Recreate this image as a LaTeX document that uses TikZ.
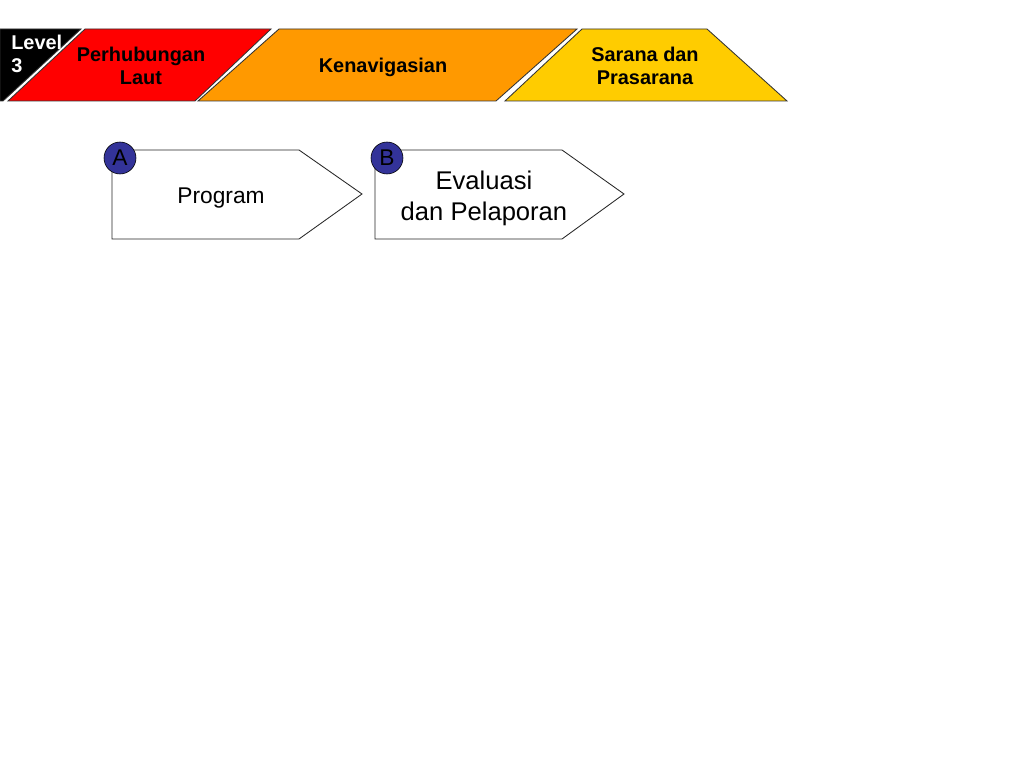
\documentclass[tikz,border=0pt]{standalone}
\usepackage{fontspec}
\setmainfont{Liberation Sans}
\definecolor{lautred}{HTML}{FF0000}
\definecolor{navorange}{HTML}{FF9900}
\definecolor{saranayellow}{HTML}{FFCC00}
\definecolor{badgeblue}{HTML}{333399}
\tikzset{
  band/.style={draw=black!80, line width=0.6pt},
  headtext/.style={font=\fontsize{14}{16.5}\selectfont\bfseries, align=center, inner sep=0pt},
  arrowbox/.style={draw=black!85, line width=0.6pt, fill=white},
  badge/.style={circle, draw=black, fill=badgeblue, minimum size=22.5pt, inner sep=0pt,
    font=\fontsize{16}{18}\selectfont},
}
\begin{document}
\begin{tikzpicture}[x=0.703125pt,y=-0.703125pt]
    \useasboundingbox (0,0) rectangle (1024,768);

    % Header bands
    \filldraw[band, fill=black] (0,29) -- (81,29) -- (3,101) -- (0,101) -- cycle;
    \filldraw[band, fill=lautred] (85,29) -- (271,29) -- (195,101) -- (8,101) -- cycle;
    \filldraw[band, fill=navorange] (279,29) -- (577,29) -- (496,101) -- (198,101) -- cycle;
    \filldraw[band, fill=saranayellow] (582,29) -- (707,29) -- (787,101) -- (505,101) -- cycle;

    \node[headtext, white, align=left, anchor=west] (level) at (11,54) {Level\\3};
    \node[headtext] (laut) at (141,66) {Perhubungan\\Laut};
    \node[headtext] (nav) at (383,67.5) {Kenavigasian};
    \node[headtext] (sarana) at (645,66) {Sarana dan\\Prasarana};

    % Arrow boxes
    \filldraw[arrowbox] (112,150) -- (299,150) -- (362,194) -- (299,239) -- (112,239) -- cycle;
    \filldraw[arrowbox] (375,150) -- (562,150) -- (624,194) -- (562,239) -- (375,239) -- cycle;

    \node[font=\fontsize{16}{19}\selectfont] (program) at (221,198) {Program};
    \node[font=\fontsize{18}{21.5}\selectfont, align=center] (evaluasi) at (484,198.5) {Evaluasi\\dan Pelaporan};

    % Badges
    \node[badge] (a) at (120,158) {A};
    \node[badge] (b) at (387,158) {B};
\end{tikzpicture}
\end{document}
